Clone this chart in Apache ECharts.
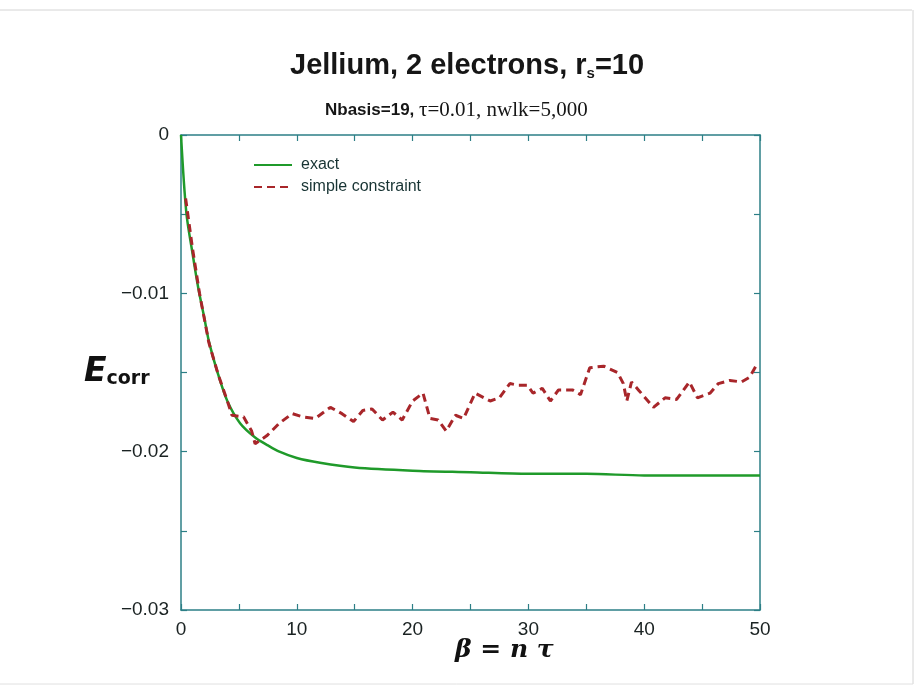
<!DOCTYPE html>
<html><head><meta charset="utf-8">
<script src="https://cdn.jsdelivr.net/npm/echarts@6/dist/echarts.min.js"></script>
<style>html,body{margin:0;padding:0;background:#fff}#c{width:923px;height:697px}</style>
</head><body><div id="c"></div>
<script>
// exact curve (beta, E_corr)
const exactBeta = [0, 0.46, 1.0, 1.5, 2.0, 2.4, 3.2, 4.0, 5.1, 6.4, 7.5, 8.5, 10, 12, 15, 20, 25, 30, 35, 40, 45, 50];
const exactE    = [0, -0.0049, -0.0075, -0.0097, -0.0115, -0.0130, -0.0151, -0.0168, -0.0182, -0.0191, -0.0196, -0.0200, -0.0204, -0.0207, -0.0210, -0.0212, -0.0213, -0.0214, -0.0214, -0.0215, -0.0215, -0.0215];
// simple constraint curve
const scBeta = [0.4, 1.0, 1.6, 2.4, 3.2, 4.0, 4.4, 5.4, 6.1, 6.4, 7.4, 8.5, 9.6, 10.5, 11.6, 12.9, 13.9, 14.9, 15.7, 16.5, 17.4, 18.3, 19.1, 20.0, 20.9, 21.5, 22.2, 22.9, 23.7, 24.4, 25.4, 26.7, 27.5, 28.4, 29.1, 29.9, 30.4, 31.2, 31.9, 32.6, 33.8, 34.5, 35.3, 36.5, 37.7, 38.2, 38.5, 38.9, 39.5, 40.8, 41.8, 42.8, 43.9, 44.6, 45.7, 46.4, 47.4, 48.4, 49.1, 49.8];
const scE    = [-0.0040, -0.0072, -0.0100, -0.0131, -0.0151, -0.0168, -0.0177, -0.0178, -0.0187, -0.0195, -0.0190, -0.0182, -0.0176, -0.0178, -0.0179, -0.0172, -0.0176, -0.0181, -0.0174, -0.0173, -0.0180, -0.0175, -0.0180, -0.0168, -0.0163, -0.0179, -0.0180, -0.0187, -0.0177, -0.0179, -0.0163, -0.0168, -0.0166, -0.0157, -0.0158, -0.0158, -0.0163, -0.0160, -0.0168, -0.0161, -0.0161, -0.0164, -0.0147, -0.0146, -0.0150, -0.0157, -0.0168, -0.0156, -0.0161, -0.0172, -0.0166, -0.0167, -0.0156, -0.0166, -0.0163, -0.0157, -0.0155, -0.0156, -0.0153, -0.0144];
const xTicks = [0, 10, 20, 30, 40, 50];
const yTicks = [0, -0.01, -0.02, -0.03];
const seriesNames = ['exact', 'simple constraint'];

const axisColor = '#2c7f86';
const chart = echarts.init(document.getElementById('c'));
function common() {
  return {
    axisLine: { show: true, onZero: false, lineStyle: { color: axisColor, width: 1.5 } },
    axisTick: { show: true, inside: true, length: 6, lineStyle: { color: axisColor, width: 1.2 } },
    minorTick: { show: true, splitNumber: 2, length: 6, lineStyle: { color: axisColor, width: 1.2 } },
    splitLine: { show: false }
  };
}
const labelStyle = { fontFamily: 'Liberation Sans', fontSize: 19, color: '#1a2222' };
chart.setOption({
  animation: false,
  backgroundColor: '#ffffff',
  grid: { left: 181, right: 163, top: 135, bottom: 87, containLabel: false },
  legend: {
    data: seriesNames, orient: 'vertical', left: 248, top: 152, itemWidth: 38, itemHeight: 10, itemGap: 6,
    itemStyle: { opacity: 0 },
    textStyle: { fontFamily: 'Liberation Sans', fontSize: 16, color: '#173333', padding: [0, 0, 0, 4] }
  },
  xAxis: [
    Object.assign({ type: 'value', min: xTicks[0], max: xTicks[xTicks.length - 1], interval: 10, position: 'bottom',
      axisLabel: Object.assign({ show: true, margin: 10 }, labelStyle) }, common()),
    Object.assign({ type: 'value', min: xTicks[0], max: xTicks[xTicks.length - 1], interval: 10, position: 'top', axisLabel: { show: false } }, common())
  ],
  yAxis: [
    Object.assign({ type: 'value', min: yTicks[yTicks.length - 1], max: yTicks[0], interval: 0.01, position: 'left',
      axisLabel: Object.assign({ show: true, margin: 12,
        formatter: v => { const r = Math.round(v * 100) / 100; return r === 0 ? '0' : '\u2212' + Math.abs(r).toString(); } }, labelStyle) }, common()),
    Object.assign({ type: 'value', min: yTicks[yTicks.length - 1], max: yTicks[0], interval: 0.01, position: 'right', axisLabel: { show: false } }, common())
  ],
  series: [
    { name: seriesNames[0], type: 'line', symbol: 'none', smooth: 0.3, data: exactBeta.map((b, i) => [b, exactE[i]]),
      lineStyle: { color: '#1f9a2a', width: 2.5 }, itemStyle: { color: '#1f9a2a' }, z: 3 },
    { name: seriesNames[1], type: 'line', symbol: 'none', data: scBeta.map((b, i) => [b, scE[i]]),
      lineStyle: { color: '#a8262a', width: 3, type: [8, 5] }, itemStyle: { color: '#a8262a' }, z: 4 }
  ],
  graphic: [
    { type: 'line', shape: { x1: 0, y1: 10, x2: 912, y2: 10 }, style: { stroke: '#d4d4d4', lineWidth: 1 } },
    { type: 'line', shape: { x1: 913, y1: 10, x2: 913, y2: 684 }, style: { stroke: '#d4d4d4', lineWidth: 1 } },
    { type: 'line', shape: { x1: 0, y1: 684, x2: 913, y2: 684 }, style: { stroke: '#e0e0e0', lineWidth: 1 } },
    { type: 'text', x: 290, y: 50, style: { rich: {
        a: { fontFamily: 'Liberation Sans', fontWeight: 'bold', fontSize: 29, fill: '#161616' },
        s: { fontFamily: 'Liberation Sans', fontWeight: 'bold', fontSize: 15, fill: '#161616', padding: [16, 0, 0, 0] } },
        text: '{a|Jellium, 2 electrons, r}{s|s}{a|=10}' } },
    { type: 'text', x: 325, y: 100, style: { rich: {
        a: { fontFamily: 'Liberation Sans', fontWeight: 'bold', fontSize: 17, fill: '#161616' },
        t: { fontFamily: 'Liberation Serif', fontSize: 21, fill: '#161616' } },
        text: '{a|Nbasis=19, }{t|\u03c4=0.01, nwlk=5,000}' } },
    { type: 'text', x: 84, y: 356, style: { rich: {
        e: { fontFamily: 'DejaVu Sans', fontWeight: 'bold', fontStyle: 'italic', fontSize: 33, fill: '#111' },
        c: { fontFamily: 'DejaVu Sans', fontWeight: 'bold', fontSize: 19, fill: '#111', padding: [14, 0, 0, 0] } },
        text: '{e|E}{c|corr}' } },
    { type: 'text', x: 455, y: 638, style: { text: '\u03b2 = n \u03c4', fontFamily: 'DejaVu Serif', fontWeight: 'bold', fontStyle: 'italic', fontSize: 25, fill: '#111' } }
  ]
});
</script></body></html>
